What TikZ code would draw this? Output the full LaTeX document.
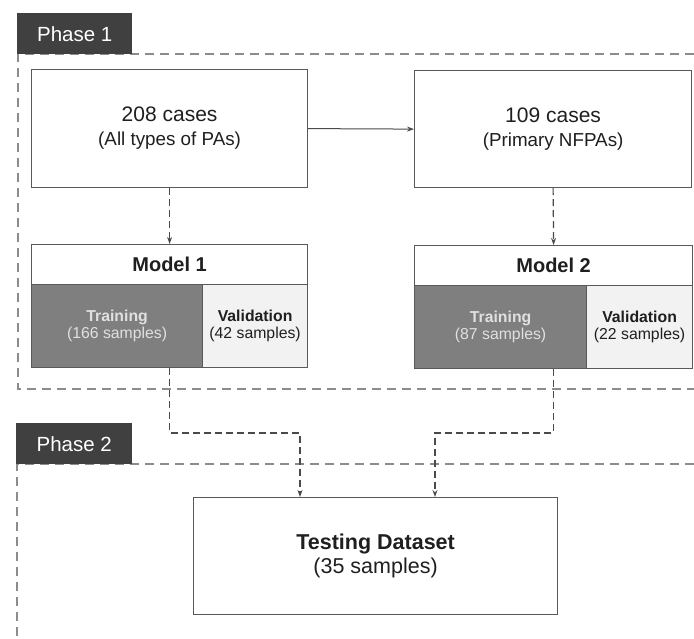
\documentclass[tikz,border=0pt]{standalone}
\usepackage{fontspec}
\setmainfont{Liberation Sans}
\usetikzlibrary{arrows.meta}

\definecolor{tabgray}{HTML}{404040}
\definecolor{edgegray}{HTML}{595959}
\definecolor{linkgray}{HTML}{4A4A4A}
\definecolor{phasegray}{HTML}{8C8C8C}
\definecolor{traingray}{HTML}{7F7F7F}
\definecolor{validgray}{HTML}{F2F2F2}
\definecolor{trainfont}{HTML}{E0E0E0}

\tikzset{
  box/.style={draw=edgegray, line width=1.2pt, fill=white, anchor=north west,
    align=center, inner sep=0pt, text=black!88},
  tab/.style={fill=tabgray, text=white, anchor=north west, inner sep=0pt,
    font=\fontsize{20.5}{22}\selectfont},
  phaseline/.style={draw=phasegray, line width=1.6pt, dash pattern=on 9pt off 6pt},
  link/.style={draw=linkgray, line width=1.2pt, dash pattern=on 7pt off 4pt,
    -{Stealth[length=7pt,width=5pt]}},
}

\begin{document}
\begin{tikzpicture}[x=1pt,y=-1pt]
    \useasboundingbox (0,0) rectangle (694,639);
    \coordinate (kinkA) at (300,433);
    \coordinate (kinkB) at (435,433);
    % phase frames
    \draw[phaseline] (694,54) -- (18,54) -- (18,389) -- (694,389);
    \draw[phaseline] (694,464) -- (17,464) -- (17,639);
    \node[tab, minimum width=115pt, minimum height=41pt] (tabA) at (17,13) {Phase 1};
    \node[tab, minimum width=116pt, minimum height=41pt] (tabB) at (16,423) {Phase 2};
    % phase 1
    \node[box, minimum width=276pt, minimum height=118pt, font=\fontsize{21}{24}\selectfont]
      (boxA) at (31,69) {208 cases\\{\fontsize{18.8}{24}\selectfont (All types of PAs)}};
    \node[box, minimum width=277pt, minimum height=117pt, font=\fontsize{21}{24}\selectfont]
      (boxB) at (414,70) {109 cases\\{\fontsize{18.8}{24}\selectfont (Primary NFPAs)}};
    \node[box, minimum width=276pt, minimum height=40pt, font=\bfseries\fontsize{20}{22}\selectfont]
      (modA) at (31,244) {Model 1};
    \node[box, minimum width=171pt, minimum height=83pt, fill=traingray, text=trainfont,
      font=\fontsize{15.8}{17}\selectfont]
      (trainA) at (31,284) {\textbf{Training}\\(166 samples)};
    \node[box, minimum width=105pt, minimum height=83pt, fill=validgray,
      font=\fontsize{15.8}{17}\selectfont]
      (validA) at (202,284) {\textbf{Validation}\\(42 samples)};
    \node[box, minimum width=278pt, minimum height=40pt, font=\bfseries\fontsize{20}{22}\selectfont]
      (modB) at (414,245) {Model 2};
    \node[box, minimum width=172pt, minimum height=83pt, fill=traingray, text=trainfont,
      font=\fontsize{15.8}{17}\selectfont]
      (trainB) at (414,285) {\textbf{Training}\\(87 samples)};
    \node[box, minimum width=106pt, minimum height=83pt, fill=validgray,
      font=\fontsize{15.8}{17}\selectfont]
      (validB) at (586,285) {\textbf{Validation}\\(22 samples)};
    % phase 2
    \node[box, minimum width=364pt, minimum height=117pt, font=\fontsize{21.5}{24.5}\selectfont]
      (testC) at (193,497) {\textbf{Testing Dataset}\\(35 samples)};
    % links
    \draw[link, solid, line width=1pt] (boxA.east) -- (boxB.west);
    \draw[link] (boxA.south) -- (modA.north);
    \draw[link] (boxB.south) -- (modB.north);
    \draw[link] (modA.center |- trainA.south) |- (kinkA) -- (kinkA |- testC.north);
    \draw[link] (modB.center |- trainB.south) |- (kinkB) -- (kinkB |- testC.north);
\end{tikzpicture}
\end{document}
